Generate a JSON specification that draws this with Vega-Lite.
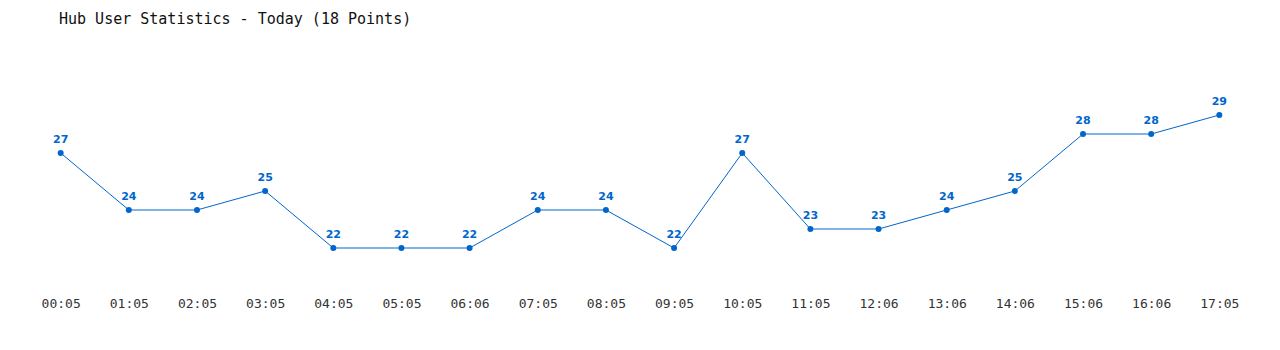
{
  "$schema": "https://vega.github.io/schema/vega-lite/v6.json",
  "width": 1280,
  "height": 228,
  "autosize": {"type": "none"},
  "padding": {"left": 0, "top": 58, "right": 0, "bottom": 64},
  "background": "white",
  "title": {
    "text": "Hub User Statistics - Today (18 Points)",
    "anchor": "start",
    "frame": "group",
    "dx": 59,
    "offset": 31,
    "font": "DejaVu Sans Mono",
    "fontSize": 15,
    "fontWeight": "normal",
    "color": "#111111"
  },
  "config": {"view": {"stroke": null}},
  "data": {
    "values": [
      {"time": "00:05", "users": 27},
      {"time": "01:05", "users": 24},
      {"time": "02:05", "users": 24},
      {"time": "03:05", "users": 25},
      {"time": "04:05", "users": 22},
      {"time": "05:05", "users": 22},
      {"time": "06:06", "users": 22},
      {"time": "07:05", "users": 24},
      {"time": "08:05", "users": 24},
      {"time": "09:05", "users": 22},
      {"time": "10:05", "users": 27},
      {"time": "11:05", "users": 23},
      {"time": "12:06", "users": 23},
      {"time": "13:06", "users": 24},
      {"time": "14:06", "users": 25},
      {"time": "15:06", "users": 28},
      {"time": "16:06", "users": 28},
      {"time": "17:05", "users": 29}
    ]
  },
  "encoding": {
    "x": {
      "field": "time",
      "type": "ordinal",
      "sort": null,
      "scale": {"type": "point", "padding": 0.89},
      "axis": {
        "title": null,
        "domain": false,
        "ticks": false,
        "grid": false,
        "labelAngle": 0,
        "labelFont": "DejaVu Sans Mono",
        "labelFontSize": 13,
        "labelColor": "#333333",
        "labelPadding": 11
      }
    },
    "y": {
      "field": "users",
      "type": "quantitative",
      "scale": {"domain": [20, 32], "zero": false, "nice": false},
      "axis": null
    }
  },
  "layer": [
    {"mark": {"type": "line", "color": "#0066cc", "strokeWidth": 1}},
    {"mark": {"type": "point", "filled": true, "color": "#0066cc", "size": 36, "opacity": 1}},
    {
      "mark": {
        "type": "text",
        "color": "#0066cc",
        "font": "DejaVu Sans",
        "fontSize": 11,
        "fontWeight": "bold",
        "dy": -13,
        "baseline": "middle"
      },
      "encoding": {"text": {"field": "users", "type": "quantitative"}}
    }
  ]
}
